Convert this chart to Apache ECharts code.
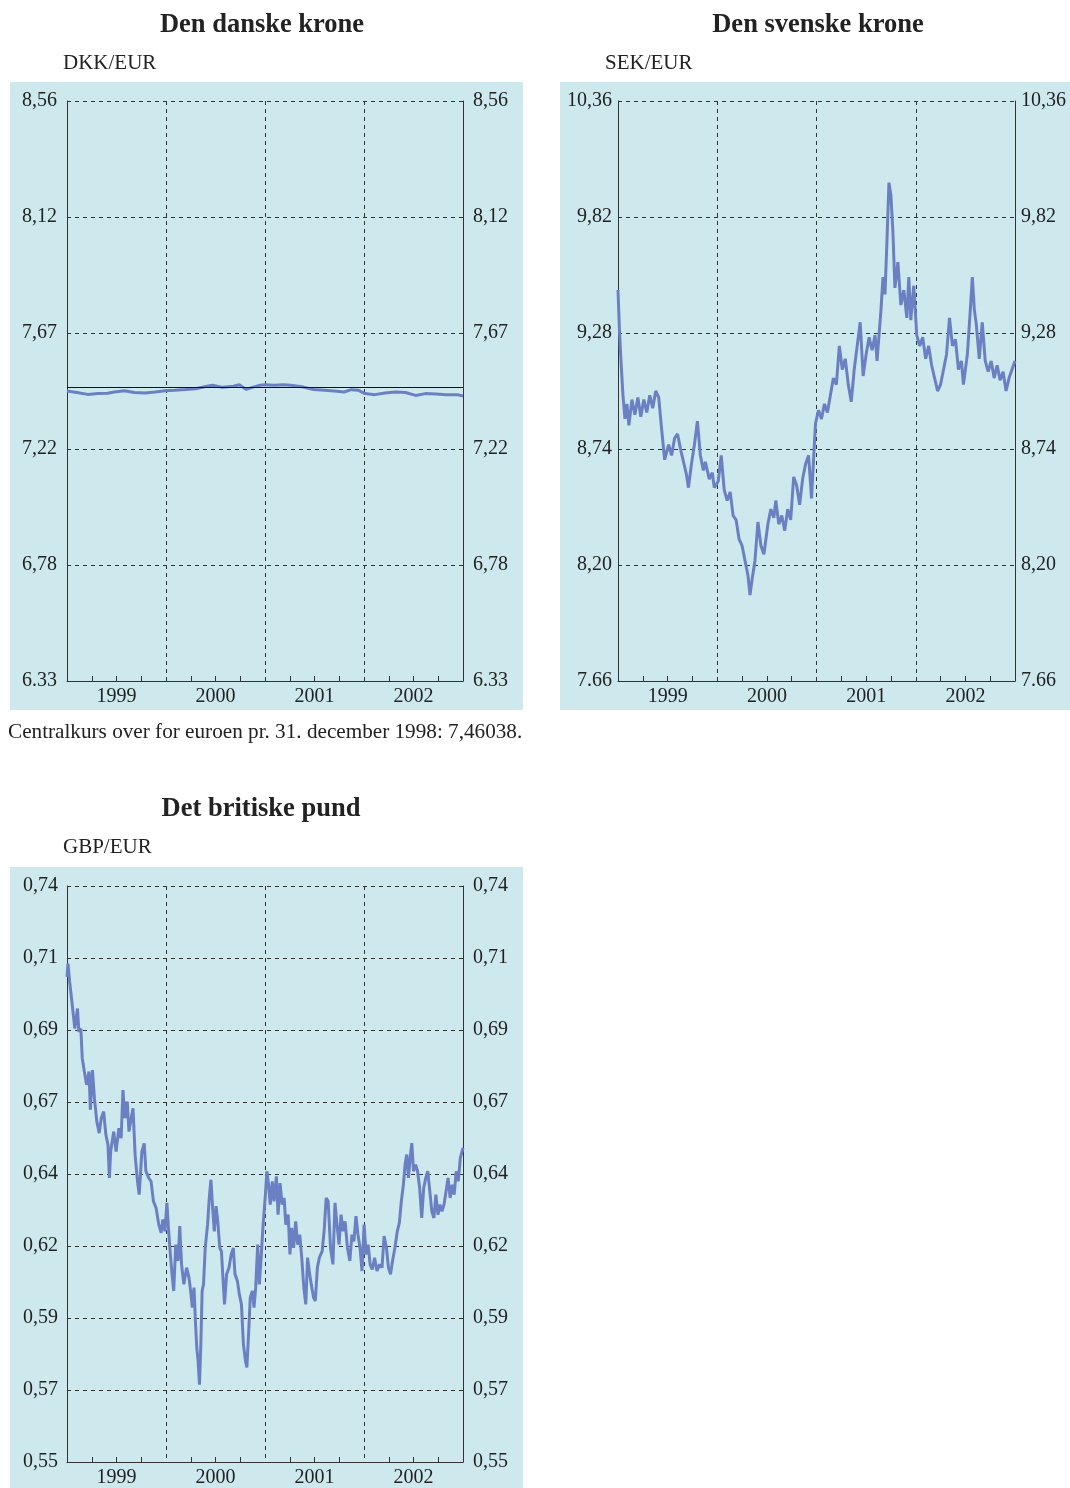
<!DOCTYPE html>
<html>
<head>
<meta charset="utf-8">
<script src="https://cdn.jsdelivr.net/npm/echarts@6/dist/echarts.min.js"></script>
<style>
  html, body { margin: 0; background: #fff; }
  #chart { width: 1070px; height: 1488px; }
</style>
</head>
<body>
<div id="chart"></div>
<script>
// years on the x axis, labels sit in the middle of each year
const years = [1999, 2000, 2001, 2002];

// y axis limits and tick labels, as printed
const dkkRange = [6.33, 8.56];
const dkkLabels = ['6.33', '6,78', '7,22', '7,67', '8,12', '8,56'];
const sekRange = [7.66, 10.36];
const sekLabels = ['7.66', '8,20', '8,74', '9,28', '9,82', '10,36'];
const gbpRange = [0.55, 0.74];
const gbpLabels = ['0,55', '0,57', '0,59', '0,62', '0,64', '0,67', '0,69', '0,71', '0,74'];

// centralkurs DKK
const dkkCentral = 7.46038;

// [year, rate]
const dkkPoints = [
  [1999.00, 7.445], [1999.10, 7.439], [1999.21, 7.432], [1999.31, 7.435], [1999.41, 7.436],
  [1999.48, 7.441], [1999.58, 7.446], [1999.68, 7.439], [1999.79, 7.437], [1999.89, 7.441],
  [1999.99, 7.446], [2000.09, 7.448], [2000.20, 7.451], [2000.30, 7.454], [2000.40, 7.462],
  [2000.47, 7.467], [2000.57, 7.459], [2000.68, 7.463], [2000.74, 7.469], [2000.81, 7.451],
  [2000.88, 7.460], [2000.95, 7.467], [2001.00, 7.469], [2001.09, 7.467], [2001.19, 7.469],
  [2001.26, 7.467], [2001.39, 7.460], [2001.49, 7.451], [2001.60, 7.448], [2001.70, 7.445],
  [2001.80, 7.441], [2001.87, 7.450], [2001.94, 7.448], [2002.01, 7.435], [2002.11, 7.431],
  [2002.21, 7.437], [2002.32, 7.441], [2002.42, 7.439], [2002.52, 7.428], [2002.62, 7.435],
  [2002.73, 7.433], [2002.83, 7.431], [2002.94, 7.431], [2003.00, 7.426]
];

const sekPoints = [
  [1999.00, 9.48], [1999.015, 9.29], [1999.03, 9.15], [1999.05, 8.99], [1999.07, 8.88],
  [1999.09, 8.95], [1999.11, 8.85], [1999.14, 8.97], [1999.17, 8.90], [1999.20, 8.98],
  [1999.23, 8.89], [1999.26, 8.97], [1999.29, 8.91], [1999.32, 8.99], [1999.35, 8.93],
  [1999.38, 9.01], [1999.41, 8.98], [1999.44, 8.83], [1999.47, 8.69], [1999.51, 8.76],
  [1999.54, 8.71], [1999.57, 8.79], [1999.60, 8.81], [1999.63, 8.74], [1999.66, 8.68],
  [1999.69, 8.62], [1999.71, 8.56], [1999.74, 8.67], [1999.77, 8.76], [1999.80, 8.87],
  [1999.83, 8.71], [1999.86, 8.64], [1999.88, 8.68], [1999.92, 8.60], [1999.95, 8.63],
  [1999.97, 8.56], [2000.01, 8.59], [2000.04, 8.71], [2000.07, 8.55], [2000.10, 8.50],
  [2000.13, 8.54], [2000.16, 8.43], [2000.19, 8.41], [2000.22, 8.32], [2000.25, 8.29],
  [2000.28, 8.22], [2000.31, 8.15], [2000.33, 8.06], [2000.35, 8.13], [2000.38, 8.22],
  [2000.41, 8.40], [2000.44, 8.29], [2000.47, 8.25], [2000.51, 8.39], [2000.54, 8.46],
  [2000.57, 8.42], [2000.59, 8.50], [2000.62, 8.39], [2000.65, 8.43], [2000.68, 8.36],
  [2000.71, 8.46], [2000.74, 8.41], [2000.77, 8.61], [2000.80, 8.57], [2000.83, 8.48],
  [2000.86, 8.60], [2000.89, 8.67], [2000.92, 8.71], [2000.95, 8.51], [2000.97, 8.69],
  [2000.99, 8.86], [2001.02, 8.92], [2001.05, 8.88], [2001.08, 8.95], [2001.11, 8.91],
  [2001.14, 8.99], [2001.17, 9.07], [2001.20, 9.04], [2001.23, 9.22], [2001.26, 9.11],
  [2001.29, 9.16], [2001.32, 9.04], [2001.35, 8.96], [2001.38, 9.11], [2001.41, 9.22],
  [2001.44, 9.33], [2001.47, 9.08], [2001.50, 9.18], [2001.53, 9.26], [2001.56, 9.20],
  [2001.59, 9.27], [2001.61, 9.15], [2001.65, 9.39], [2001.67, 9.54], [2001.69, 9.46],
  [2001.71, 9.71], [2001.73, 9.98], [2001.75, 9.92], [2001.77, 9.75], [2001.79, 9.49],
  [2001.82, 9.61], [2001.85, 9.41], [2001.88, 9.48], [2001.91, 9.35], [2001.93, 9.54],
  [2001.95, 9.34], [2001.98, 9.50], [2002.01, 9.27], [2002.04, 9.22], [2002.07, 9.26],
  [2002.10, 9.16], [2002.13, 9.22], [2002.16, 9.13], [2002.19, 9.07], [2002.22, 9.01],
  [2002.25, 9.04], [2002.28, 9.11], [2002.31, 9.18], [2002.34, 9.35], [2002.37, 9.22],
  [2002.40, 9.25], [2002.43, 9.11], [2002.46, 9.15], [2002.48, 9.04], [2002.52, 9.18],
  [2002.55, 9.39], [2002.57, 9.54], [2002.59, 9.39], [2002.61, 9.32], [2002.64, 9.16],
  [2002.67, 9.33], [2002.70, 9.15], [2002.73, 9.10], [2002.76, 9.15], [2002.79, 9.07],
  [2002.82, 9.13], [2002.85, 9.06], [2002.88, 9.10], [2002.91, 9.01], [2002.94, 9.07],
  [2002.97, 9.11], [2003.00, 9.15]
];

const gbpPoints = [
  [1999.000, 0.7100], [1999.010, 0.7144], [1999.027, 0.7084], [1999.044, 0.7034], [1999.062, 0.7040],
  [1999.079, 0.6930], [1999.106, 0.6996], [1999.120, 0.6919], [1999.140, 0.6930], [1999.154, 0.6832],
  [1999.175, 0.6788], [1999.198, 0.6744], [1999.222, 0.6788], [1999.236, 0.6662], [1999.257, 0.6793],
  [1999.277, 0.6700], [1999.301, 0.6623], [1999.325, 0.6585], [1999.346, 0.6634], [1999.370, 0.6656],
  [1999.393, 0.6579], [1999.414, 0.6546], [1999.428, 0.6437], [1999.441, 0.6524], [1999.472, 0.6590],
  [1999.496, 0.6524], [1999.524, 0.6601], [1999.547, 0.6568], [1999.565, 0.6727], [1999.585, 0.6634],
  [1999.609, 0.6689], [1999.626, 0.6590], [1999.643, 0.6623], [1999.667, 0.6667], [1999.688, 0.6513],
  [1999.712, 0.6426], [1999.729, 0.6382], [1999.756, 0.6524], [1999.780, 0.6551], [1999.797, 0.6459],
  [1999.825, 0.6437], [1999.849, 0.6426], [1999.873, 0.6360], [1999.900, 0.6338], [1999.927, 0.6283],
  [1999.951, 0.6256], [1999.968, 0.6300], [1999.989, 0.6261], [2000.009, 0.6355], [2000.027, 0.6261],
  [2000.044, 0.6185], [2000.061, 0.6119], [2000.078, 0.6064], [2000.098, 0.6217], [2000.122, 0.6163],
  [2000.139, 0.6278], [2000.157, 0.6152], [2000.180, 0.6086], [2000.208, 0.6141], [2000.232, 0.6108],
  [2000.249, 0.6064], [2000.266, 0.6009], [2000.283, 0.6075], [2000.297, 0.5965], [2000.311, 0.5877],
  [2000.324, 0.5833], [2000.338, 0.5755], [2000.352, 0.5888], [2000.365, 0.6064], [2000.379, 0.6086],
  [2000.396, 0.6206], [2000.420, 0.6283], [2000.437, 0.6371], [2000.454, 0.6431], [2000.471, 0.6338],
  [2000.488, 0.6261], [2000.506, 0.6344], [2000.523, 0.6294], [2000.543, 0.6206], [2000.560, 0.6195],
  [2000.577, 0.6097], [2000.591, 0.6020], [2000.612, 0.6119], [2000.636, 0.6141], [2000.659, 0.6185],
  [2000.680, 0.6206], [2000.697, 0.6119], [2000.721, 0.6097], [2000.741, 0.6053], [2000.762, 0.6020],
  [2000.782, 0.5888], [2000.803, 0.5833], [2000.817, 0.5812], [2000.834, 0.5921], [2000.851, 0.6042],
  [2000.872, 0.6064], [2000.889, 0.6009], [2000.906, 0.6075], [2000.926, 0.6217], [2000.943, 0.6086],
  [2000.961, 0.6174], [2000.981, 0.6283], [2001.002, 0.6371], [2001.019, 0.6459], [2001.036, 0.6415],
  [2001.053, 0.6349], [2001.074, 0.6426], [2001.091, 0.6360], [2001.115, 0.6442], [2001.132, 0.6316],
  [2001.152, 0.6420], [2001.173, 0.6349], [2001.193, 0.6371], [2001.210, 0.6283], [2001.234, 0.6316],
  [2001.252, 0.6185], [2001.269, 0.6272], [2001.289, 0.6206], [2001.310, 0.6294], [2001.330, 0.6217],
  [2001.351, 0.6250], [2001.371, 0.6174], [2001.392, 0.6075], [2001.412, 0.6020], [2001.430, 0.6174],
  [2001.447, 0.6130], [2001.467, 0.6086], [2001.491, 0.6042], [2001.508, 0.6031], [2001.529, 0.6141],
  [2001.549, 0.6174], [2001.577, 0.6195], [2001.597, 0.6261], [2001.618, 0.6371], [2001.638, 0.6360],
  [2001.662, 0.6206], [2001.686, 0.6152], [2001.707, 0.6355], [2001.727, 0.6283], [2001.748, 0.6217],
  [2001.768, 0.6316], [2001.789, 0.6261], [2001.809, 0.6294], [2001.833, 0.6206], [2001.857, 0.6163],
  [2001.878, 0.6250], [2001.898, 0.6228], [2001.919, 0.6311], [2001.939, 0.6250], [2001.960, 0.6206],
  [2001.980, 0.6130], [2002.001, 0.6283], [2002.021, 0.6185], [2002.042, 0.6217], [2002.062, 0.6152],
  [2002.083, 0.6135], [2002.107, 0.6174], [2002.131, 0.6130], [2002.158, 0.6152], [2002.182, 0.6141],
  [2002.203, 0.6245], [2002.227, 0.6206], [2002.247, 0.6141], [2002.268, 0.6119], [2002.288, 0.6163],
  [2002.312, 0.6206], [2002.336, 0.6261], [2002.357, 0.6289], [2002.377, 0.6360], [2002.398, 0.6415],
  [2002.415, 0.6481], [2002.432, 0.6514], [2002.449, 0.6437], [2002.466, 0.6503], [2002.483, 0.6552],
  [2002.500, 0.6459], [2002.521, 0.6481], [2002.541, 0.6459], [2002.562, 0.6404], [2002.583, 0.6305],
  [2002.603, 0.6404], [2002.624, 0.6437], [2002.644, 0.6459], [2002.665, 0.6393], [2002.685, 0.6327],
  [2002.706, 0.6305], [2002.726, 0.6382], [2002.747, 0.6316], [2002.767, 0.6349], [2002.788, 0.6327],
  [2002.808, 0.6349], [2002.829, 0.6393], [2002.849, 0.6437], [2002.870, 0.6371], [2002.890, 0.6415],
  [2002.911, 0.6382], [2002.931, 0.6459], [2002.952, 0.6426], [2002.973, 0.6503], [2003.000, 0.6536]
];

const FONT = 'Liberation Serif';
const INK = '#222';
const LINE = '#333';
const BG = '#cde9ee';
const BLUE = '#6b80c3';

const chart = echarts.init(document.getElementById('chart'), null, { renderer: 'canvas' });

// evenly spaced tick values between the limits, one per printed label
function tickValues(range, labels) {
  const n = labels.length - 1;
  return labels.map((_, k) => k === n ? range[1] : +(range[0] + (range[1] - range[0]) * k / n).toFixed(6));
}

function xAxisFor(i) {
  return {
    type: 'value', gridIndex: i, min: 1999, max: 2003, interval: 1,
    axisLine: { onZero: false, lineStyle: { color: LINE, width: 1 } },
    axisTick: { show: false, inside: true },
    minorTick: { show: true, splitNumber: 4, length: 5, lineStyle: { color: LINE, width: 1 } },
    splitLine: { show: true, lineStyle: { color: LINE, width: 1, type: [4, 4] } },
    axisLabel: {
      customValues: years.map(y => y + 0.5),
      formatter: v => String(Math.floor(v)),
      margin: 6, color: INK, fontSize: 20, fontFamily: FONT
    }
  };
}

function yAxesFor(i, range, labels, marginL, marginR) {
  const ticks = tickValues(range, labels);
  const fmt = v => labels[Math.round((v - range[0]) / (range[1] - range[0]) * (labels.length - 1))];
  const base = {
    type: 'value', gridIndex: i, min: range[0], max: range[1],
    axisLine: { show: true, onZero: false, lineStyle: { color: LINE, width: 1 } },
    axisTick: { show: false, customValues: ticks }
  };
  return [
    Object.assign({}, base, {
      position: 'left',
      splitLine: { show: true, lineStyle: { color: LINE, width: 1, type: [4, 4] } },
      axisLabel: { customValues: ticks, formatter: fmt, margin: marginL, color: INK, fontSize: 20, fontFamily: FONT }
    }),
    Object.assign({}, base, {
      position: 'right',
      splitLine: { show: false },
      axisLabel: { customValues: ticks, formatter: fmt, margin: marginR, color: INK, fontSize: 20, fontFamily: FONT }
    })
  ];
}

function rateSeries(i, points, extra) {
  return Object.assign({
    type: 'line', xAxisIndex: i, yAxisIndex: 2 * i,
    data: points, showSymbol: false, symbol: 'none',
    lineStyle: { color: BLUE, width: 3 }, z: 3
  }, extra || {});
}

function txt(text, x, y, size, bold, align) {
  return {
    type: 'text', z: 10, x: x, y: y,
    style: {
      text: text, fill: INK, font: (bold ? 'bold ' : '') + size + 'px "' + FONT + '"',
      textAlign: align || 'left', textVerticalAlign: 'middle'
    }
  };
}

function bg(x, y, w, h) {
  return { type: 'rect', z: -10, shape: { x: x, y: y, width: w, height: h }, style: { fill: BG } };
}

chart.setOption({
  animation: false,
  textStyle: { fontFamily: FONT },
  grid: [
    { left: 67, top: 101, width: 396, height: 580 },
    { left: 618, top: 101, width: 397, height: 580 },
    { left: 67, top: 886, width: 396, height: 578 }
  ],
  xAxis: [xAxisFor(0), xAxisFor(1), xAxisFor(2)],
  yAxis: [].concat(
    yAxesFor(0, dkkRange, dkkLabels, 10, 10),
    yAxesFor(1, sekRange, sekLabels, 6, 6),
    yAxesFor(2, gbpRange, gbpLabels, 9, 10)
  ),
  graphic: {
    elements: [
      bg(10, 82, 513, 628),
      bg(560, 82, 510, 628),
      bg(10, 867, 513, 621),
      txt('Den danske krone', 262, 25, 26.5, true, 'center'),
      txt('Den svenske krone', 818, 25, 26.5, true, 'center'),
      txt('Det britiske pund', 261, 809, 26.5, true, 'center'),
      txt('DKK/EUR', 63, 63, 21, false),
      txt('SEK/EUR', 605, 63, 21, false),
      txt('GBP/EUR', 63, 847, 21, false),
      txt('Centralkurs over for euroen pr. 31. december 1998: 7,46038.', 8, 732, 21.2, false)
    ]
  },
  series: [
    rateSeries(0, dkkPoints, {
      markLine: {
        silent: true, symbol: 'none', label: { show: false },
        lineStyle: { color: '#111', width: 1, type: 'solid' },
        data: [{ yAxis: dkkCentral }]
      }
    }),
    rateSeries(1, sekPoints),
    rateSeries(2, gbpPoints)
  ]
});
</script>
</body>
</html>
